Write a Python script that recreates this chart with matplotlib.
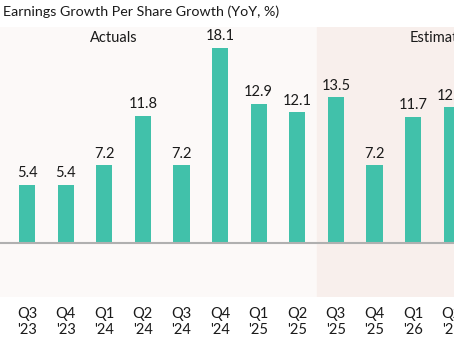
import numpy as np
import matplotlib.pyplot as plt

plt.rcParams['font.family'] = ['Lato', 'DejaVu Sans']

quarters = ["Q3\n'23", "Q4\n'23", "Q1\n'24", "Q2\n'24", "Q3\n'24", "Q4\n'24",
            "Q1\n'25", "Q2\n'25", "Q3\n'25", "Q4\n'25", "Q1\n'26", "Q2\n'26"]
growth = [5.4, 5.4, 7.2, 11.8, 7.2, 18.1, 12.9, 12.1, 13.5, 7.2, 11.7, 12.6]
n_actual = 8

bar_color = "#41c1aa"
x = np.arange(len(quarters))

fig = plt.figure(figsize=(4.54, 3.41), dpi=100)
xlim = (-0.7, 11.5)
ax_w = (xlim[1] - xlim[0]) * 38.6 / 454
ax = fig.add_axes([0.0, 44 / 341, ax_w, 270 / 341])
ax.set_xlim(*xlim)
ax.set_ylim(-5, 20)

# shaded backgrounds for actuals / estimates
ax.axvspan(xlim[0], n_actual - 0.5, color="#fcf9f8", zorder=0)
ax.axvspan(n_actual - 0.5, xlim[1], color="#f8efec", zorder=0)

ax.bar(x, growth, width=0.42, color=bar_color, zorder=2)
ax.axhline(0, color="#b0b0b0", linewidth=1.5, zorder=3)

for xi, v in zip(x, growth):
    ax.text(xi, v + 0.4, f"{v:.1f}", ha="center", va="bottom", fontsize=10.5,
            color="#1a1a1a")

ax.text(2.25, 19.0, "Actuals", ha="center", va="center", fontsize=10.5, color="#1a1a1a")
ax.text(9.92, 19.0, "Estimates", ha="left", va="center", fontsize=10.5, color="#1a1a1a")

ax.set_xticks(x)
ax.set_xticklabels(quarters, fontsize=10.5, color="#1a1a1a", linespacing=1.2)
ax.tick_params(axis="x", length=0, pad=7)
ax.set_yticks([])
for s in ax.spines.values():
    s.set_visible(False)

fig.text(3 / 454, 1 - 12 / 341, "Earnings Growth Per Share Growth (YoY, %)",
         ha="left", va="center", fontsize=10.3, color="#1a1a1a")

fig.savefig("out.png", dpi=100)
